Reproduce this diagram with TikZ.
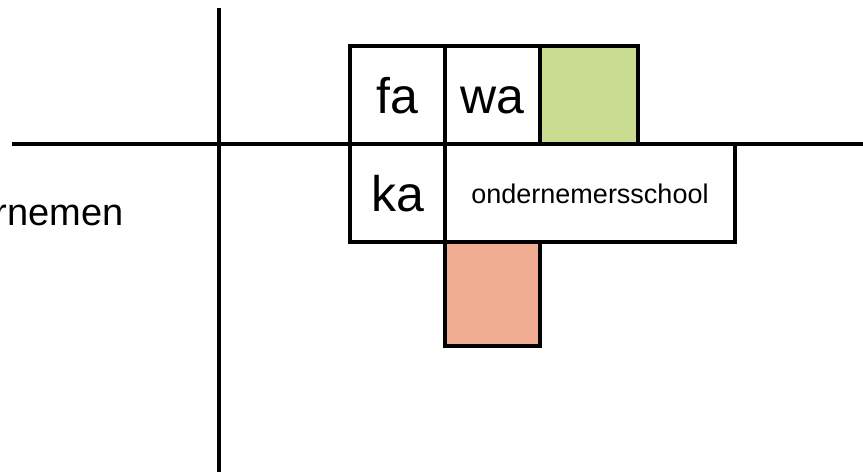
\documentclass[tikz,border=0pt]{standalone}
\usepackage{fontspec}
\setmainfont{Liberation Sans}
\usepackage{xcolor}
\usepackage{tikz}
\usetikzlibrary{positioning}
\definecolor{cellgreen}{HTML}{C9DC8F}
\definecolor{cellred}{HTML}{F1AD92}
\tikzset{
  cell/.style  = {draw=black, line width=3.5pt, fill=white, inner sep=0pt, outer sep=0pt,
                  minimum width=95pt, minimum height=98pt, text height=36pt, text depth=0pt,
                  font=\fontsize{50}{56}\selectfont},
  wide/.style  = {cell, minimum width=290pt, text height=20pt, font=\fontsize{27}{32}\selectfont},
  axis/.style  = {line width=3.5pt, black},
  lbl/.style   = {font=\fontsize{38}{44}\selectfont, anchor=east, inner sep=0pt},
}

\begin{document}
\begin{tikzpicture}[x=1pt, y=-1pt, node distance=0pt]
  \useasboundingbox (0,0) rectangle (863,472);
  % axes
  \coordinate (hl) at (12,144); \coordinate (hr) at (863,144);
  \coordinate (vt) at (219,8);  \coordinate (vb) at (219,472);
  \draw[axis] (hl)--(hr);
  \draw[axis] (vt)--(vb);
  \node[lbl] (side) at (124,212) {ondernemen};
  % blocks
  \node[cell, anchor=south west] (fa) at (350,144) {fa};
  \node[cell, right=of fa] (wa) {wa};
  \node[cell, right=of wa, fill=cellgreen, minimum width=98pt] (green) {};
  \node[cell, anchor=north west] (ka) at (350,144) {ka};
  \node[wide, right=of ka] (school) {ondernemersschool};
  \node[cell, anchor=north west, fill=cellred, minimum height=104pt] (red) at (school.south west) {};
\end{tikzpicture}
\end{document}
